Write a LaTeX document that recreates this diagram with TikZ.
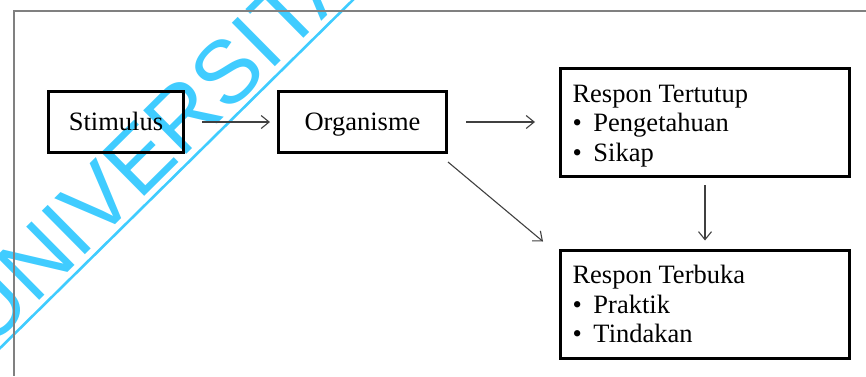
\documentclass[tikz,border=0pt]{standalone}
\usepackage{fontspec}
\setmainfont{Liberation Serif}
\newfontfamily\wmfont{Liberation Sans}
\usetikzlibrary{arrows.meta}
\definecolor{wmcyan}{RGB}{64,204,255}
\definecolor{framegray}{RGB}{128,128,128}
\definecolor{arrowgray}{RGB}{64,64,64}
% bullet with a fixed gap before the item text
\newcommand\bulitem{\makebox[21pt][l]{\textbullet}}
% three-line list whose first baseline sits 20.5pt above the box centre
\newcommand\listlines[1]{\raisebox{0pt}[0pt][41pt]{\parbox[t]{265pt}{#1}}}

\begin{document}
\begin{tikzpicture}[x=1pt,y=-1pt,
  box/.style={draw=black, line width=3pt, rectangle, inner sep=0pt,
    font=\fontsize{26.5}{29.5}\selectfont},
  wordbox/.style={box, text height=17pt, text depth=1pt, minimum height=61pt},
  listbox/.style={box, minimum width=289pt, minimum height=108pt,
    inner xsep=12pt},
  link/.style={draw=arrowgray, line width=1.1pt,
    -{Straight Barb[length=8pt,width=13pt]}},
]
\useasboundingbox (0,0) rectangle (866,376);
\clip (0,0) rectangle (866,376);

% watermark behind the diagram
\coordinate (wmA) at (-10,358);
\coordinate (wmB) at (363,-10);
\draw[wmcyan, line width=2.6pt] (wmA) -- (wmB);
\node[wmcyan, font=\wmfont\fontsize{89}{89}\selectfont, rotate=44.7,
  anchor=base west, inner sep=0pt] (wm) at (-11.7,350.7) {UNIVERSITA};

% page frame
\draw[framegray, line width=1.5pt] (866,11) -- (14,11) -- (14,376);

% boxes
\node[wordbox, minimum width=135pt] (stim) at (116,122) {Stimulus};
\node[wordbox, minimum width=168pt] (org) at (362.5,122) {Organisme};
\node[listbox] (rt) at (705,122.5)
  {\listlines{Respon Tertutup\\ \bulitem Pengetahuan\\ \bulitem Sikap}};
\node[listbox] (rb) at (705,304)
  {\listlines{Respon Terbuka\\ \bulitem Praktik\\ \bulitem Tindakan}};

% connectors
\draw[link, shorten <=17pt, shorten >=7pt] (stim.east) -- (org.west);
\draw[link, shorten <=18pt, shorten >=24pt] (org.east) -- (org.east -| rt.west);
\draw[link, shorten <=7pt, shorten >=8pt] (rt.south) -- (rb.north);
\draw[link] ([yshift=-8pt]org.south east) -- ([xshift=-16pt,yshift=7pt]rb.north west);
\end{tikzpicture}
\end{document}
